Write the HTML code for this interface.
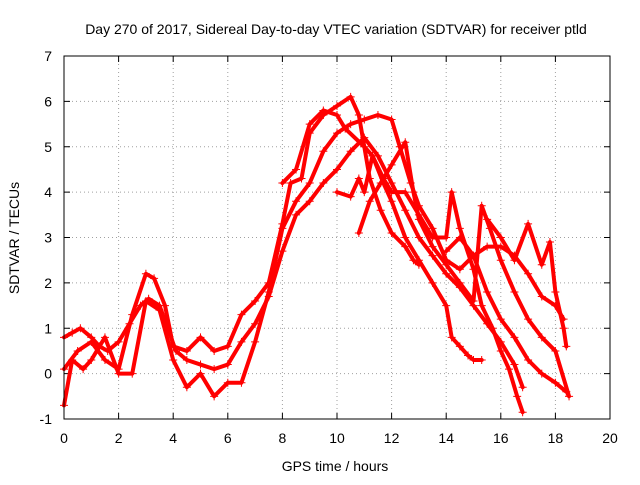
<!DOCTYPE html>
<html><head><meta charset="utf-8"><style>
body{margin:0;background:#fff}
svg text{font-family:"Liberation Sans",sans-serif;font-size:14px;fill:#000}
</style></head><body>
<svg id="chart" width="640" height="480">
<text x="336" y="34" text-anchor="middle">Day 270 of 2017, Sidereal Day-to-day VTEC variation (SDTVAR) for receiver ptld</text>
<text x="335" y="471" text-anchor="middle">GPS time / hours</text>
<text transform="translate(19,238) rotate(-90)" text-anchor="middle">SDTVAR / TECUs</text>
<g id="grid"></g><g id="ticks"></g><g id="series"></g>
<rect x="64" y="56" width="546" height="363" fill="none" stroke="#000"/>
</svg>
<script>
const xTicks=[0,2,4,6,8,10,12,14,16,18,20];
const yTicks=[-1,0,1,2,3,4,5,6,7];
const s1=[[0,0.8],[0.3,0.9],[0.6,1.0],[1,0.8],[1.3,0.6],[1.6,0.5],[2,0.7],[2.4,1.1],[2.8,1.5],[3.1,1.65],[3.5,1.5],[3.8,1.0],[4.1,0.5],[4.5,0.3],[5,0.2],[5.5,0.1],[6,0.2],[6.5,0.7],[7,1.1],[7.5,1.7],[8,2.7],[8.5,3.5],[9,3.8],[9.5,4.2],[10,4.5],[10.5,4.9],[11,5.2],[11.5,4.8],[12,4.2],[12.5,3.6],[13,3.0],[13.5,2.6],[14,2.2],[14.5,1.9],[15,1.5],[15.5,1.1],[16,0.7],[16.5,0.2],[16.8,-0.3]];
const s2=[[0,0.1],[0.5,0.5],[1,0.7],[1.5,0.3],[2,0.1],[2.5,1.3],[3,2.2],[3.3,2.1],[3.7,1.5],[4,0.6],[4.5,0.5],[5,0.8],[5.5,0.5],[6,0.6],[6.5,1.3],[7,1.6],[7.5,2.0],[8,3.3],[8.3,4.2],[8.7,4.3],[9,5.3],[9.5,5.7],[10,5.9],[10.5,6.1],[10.8,5.7],[11.2,4.3],[11.6,3.6],[12,3.1],[12.5,2.8],[12.8,2.5],[13,2.4]];
const s3=[[0,-0.7],[0.3,0.3],[0.7,0.1],[1,0.3],[1.5,0.8],[2,0.0],[2.5,0.0],[3,1.6],[3.5,1.4],[4,0.3],[4.5,-0.3],[5,0.0],[5.5,-0.5],[6,-0.2],[6.5,-0.2],[7,0.7],[7.5,1.8],[8,3.2],[8.5,3.8],[9,4.2],[9.5,4.9],[10,5.3],[10.5,5.5],[11,5.6],[11.5,5.7],[12,5.6],[12.3,5.0],[12.7,4.2],[13,3.7],[13.5,3.2],[14,2.5],[14.5,2.3],[15,2.6],[15.5,2.8],[16,2.8],[16.5,2.6],[17,2.2],[17.5,1.7],[18,1.5],[18.3,1.2]];
const s4=[[8,4.2],[8.5,4.5],[9,5.5],[9.5,5.8],[10,5.7],[10.3,5.4],[11,5.0],[11.3,4.8],[11.7,4.2],[12,3.8],[12.5,3.0],[13,2.5],[13.5,2.0],[14,1.5],[14.2,0.8],[14.5,0.6],[14.8,0.4],[15,0.3],[15.3,0.3]];
const s5=[[10,4.0],[10.5,3.9],[10.8,4.3],[11,4.0],[11.3,4.8],[11.7,4.3],[12,4.0],[12.5,4.0],[13,3.5],[13.5,3.0],[14,3.0],[14.2,4.0],[14.5,3.2],[15,2.3],[15.3,1.5],[15.7,1.0],[16,0.5],[16.3,0.1],[16.6,-0.5],[16.8,-0.85]];
const s6=[[10.8,3.1],[11.2,3.8],[11.6,4.2],[12,4.6],[12.5,5.1],[12.8,4.0],[13,3.4],[13.5,2.8],[14,2.4],[14.5,2.0],[15,1.6],[15.3,3.7],[15.6,3.2],[16,2.5],[16.5,1.8],[17,1.2],[17.5,0.8],[18,0.5],[18.5,-0.5]];
const s7=[[15.5,3.4],[16,3.0],[16.5,2.5],[17,3.3],[17.5,2.4],[17.8,2.9],[18,1.8],[18.3,1.0],[18.4,0.6]];
const s8=[[14,2.7],[14.5,3.0],[15,2.6],[15.5,1.8],[16,1.2],[16.5,0.8],[17,0.3],[17.5,0.0],[18,-0.2],[18.4,-0.4]];
const allSeries=[s1,s2,s3,s4,s5,s6,s7,s8];
const X=v=>64+(v-0)*(546/20);
const Y=v=>419-(v+1)*(363/8);
const NS="http://www.w3.org/2000/svg";
const grid=document.getElementById('grid'),ticks=document.getElementById('ticks'),ser=document.getElementById('series');
function mk(t,a,p){const e=document.createElementNS(NS,t);for(const k in a)e.setAttribute(k,a[k]);p.appendChild(e);return e;}
xTicks.forEach(v=>{
 if(v>0&&v<20){const g=mk('line',{x1:X(v),x2:X(v),y1:56,y2:419,stroke:'#a0a0a0','stroke-dasharray':'1,3'},grid);
 
 }
 mk('line',{x1:X(v),x2:X(v),y1:419,y2:413,stroke:'#000'},ticks);mk('line',{x1:X(v),x2:X(v),y1:56,y2:62,stroke:'#000'},ticks);
 const t=mk('text',{x:X(v),y:443,'text-anchor':'middle'},ticks);t.textContent=v;
 
 
});
yTicks.forEach(v=>{
 if(v>-1&&v<7){const g=mk('line',{x1:64,x2:610,y1:Y(v),y2:Y(v),stroke:'#a0a0a0','stroke-dasharray':'1,3'},grid);
 
 }
 mk('line',{x1:64,x2:70,y1:Y(v),y2:Y(v),stroke:'#000'},ticks);mk('line',{x1:610,x2:604,y1:Y(v),y2:Y(v),stroke:'#000'},ticks);
 const t=mk('text',{x:52,y:Y(v)+5,'text-anchor':'end'},ticks);t.textContent=v;
 
 
});
allSeries.forEach((s,i)=>{
 const p=mk('polyline',{points:s.map(d=>X(d[0])+','+Y(d[1])).join(' '),fill:'none',stroke:'#f00','stroke-width':4,'stroke-linejoin':'round','stroke-linecap':'round'},ser);
 
 
 s.forEach(d=>{const x=X(d[0]),y=Y(d[1]);
  const m=mk('path',{d:`M${x-4},${y}h8M${x},${y-4}v8`,stroke:'#f00','stroke-width':1},ser);
  
  });
});
</script>
</body></html>
